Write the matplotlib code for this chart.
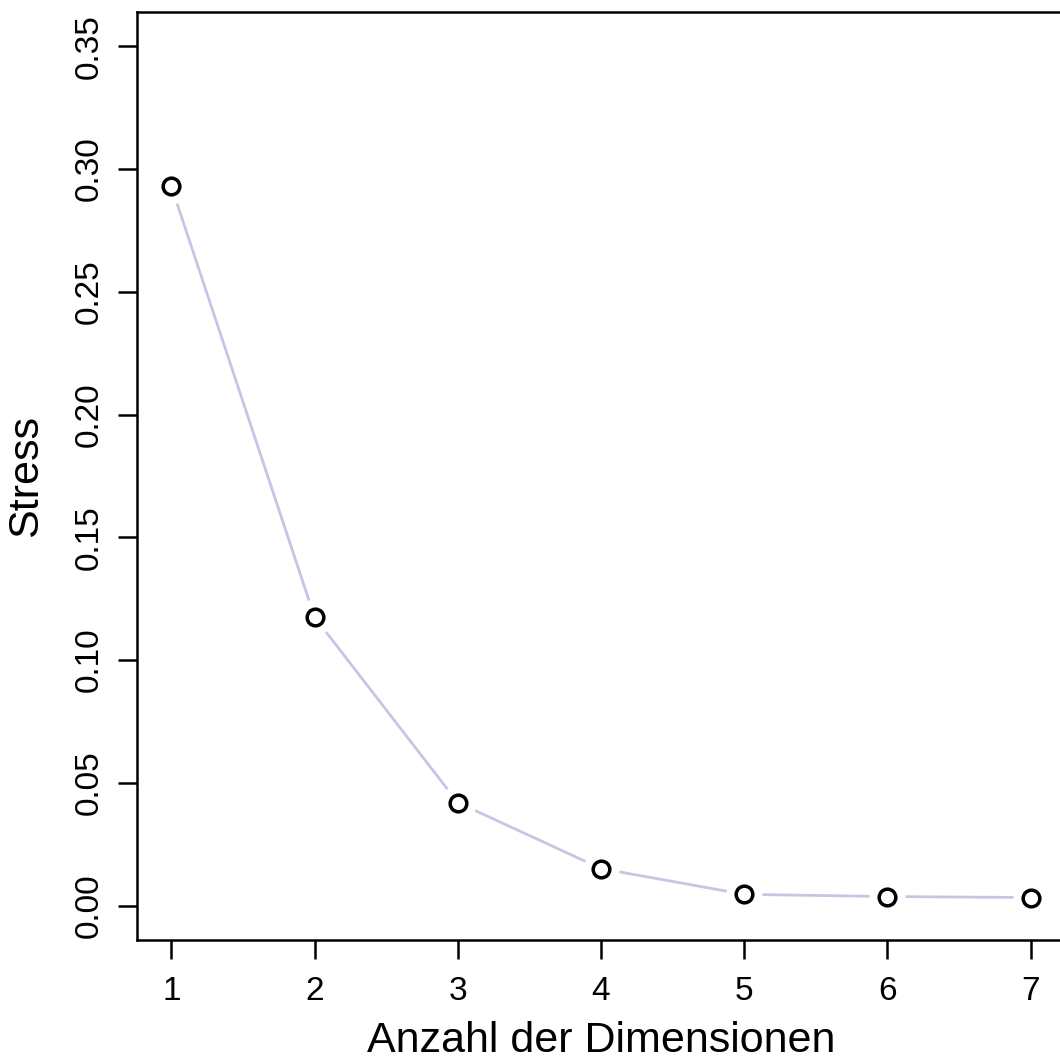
import numpy as np
import matplotlib
matplotlib.use('Agg')
import matplotlib.pyplot as plt

plt.rcParams['font.family'] = ['Liberation Sans', 'DejaVu Sans']

# stress values
dims = [1, 2, 3, 4, 5, 6, 7]
stress = [0.293, 0.1175, 0.042, 0.0151, 0.0046, 0.0037, 0.0033]

W, H = 1060, 1059
fig = plt.figure(figsize=(W/100, H/100), dpi=100)
ax = fig.add_axes([137/W, (H-940)/H, (1065-137)/W, (940-12)/H])

# R type="b": line with gaps round the points
ax.plot(dims, stress, color='#c6c6e4', lw=2, zorder=1)
ax.plot(dims, stress, ls='none', marker='o', ms=26, mfc='white', mec='none', zorder=2)
ax.plot(dims, stress, ls='none', marker='o', ms=12, mfc='white', mec='black', mew=2.5, zorder=3)

ax.set_xlim(0.76, 7.24)
ax.set_ylim(-0.014, 0.364)
ax.set_xticks(dims)
ax.set_yticks(np.arange(0, 0.351, 0.05))
ax.set_yticklabels(['%.2f' % v for v in np.arange(0, 0.351, 0.05)], rotation=90, va='center')

for s in ax.spines.values():
    s.set_linewidth(1.8)
ax.tick_params(length=14, width=1.8, labelsize=24, pad=12)
ax.tick_params(axis='y', pad=9)

ax.set_xlabel('Anzahl der Dimensionen', fontsize=31, labelpad=10)
ax.set_ylabel('Stress', fontsize=31, labelpad=20)

fig.savefig('out.png', dpi=100)
